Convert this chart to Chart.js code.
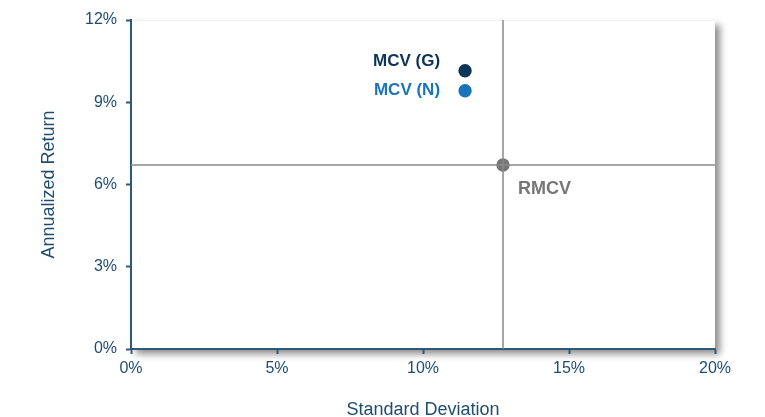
<!DOCTYPE html>
<html>
<head>
<meta charset="utf-8">
<script src="https://cdn.jsdelivr.net/npm/chart.js@4/dist/chart.umd.min.js"></script>
<style>
  html, body { margin: 0; padding: 0; background: #fff; }
  #wrap { width: 765px; height: 417px; position: relative; }
</style>
</head>
<body>
<div id="wrap"><canvas id="riskReturn"></canvas></div>
<script>
// datos
const names = ['MCV (G)', 'MCV (N)', 'RMCV'];
const stdDev = [11.44, 11.44, 12.74];
const annReturn = [10.15, 9.42, 6.71];
const pointColors = ['#0b3458', '#1a74ba', '#767676'];
const xTicks = [0, 5, 10, 15, 20];
const yTicks = [0, 3, 6, 9, 12];

const axisColor = '#2d5877';
const textColor = '#1f4d6e';
const font = 'Arial, "Liberation Sans", sans-serif';

// índice del benchmark (líneas cruzadas)
const bench = names.indexOf('RMCV');

// sombra del área del gráfico
const shadowPlugin = {
  id: 'areaShadow',
  beforeDraw(chart) {
    const { ctx, chartArea: a } = chart;
    ctx.save();
    ctx.shadowColor = 'rgba(0,0,0,0.45)';
    ctx.shadowBlur = 7;
    ctx.shadowOffsetX = 5;
    ctx.shadowOffsetY = 5;
    ctx.fillStyle = '#fff';
    ctx.fillRect(a.left, a.top, a.right - a.left, a.bottom - a.top);
    ctx.restore();
    ctx.save();
    ctx.strokeStyle = '#f2f2f2';
    ctx.lineWidth = 1;
    ctx.beginPath();
    ctx.moveTo(a.left, a.top + 0.5);
    ctx.lineTo(a.right, a.top + 0.5);
    ctx.stroke();
    ctx.restore();
  }
};

// etiquetas junto a los puntos
const labelOffsets = [
  { dx: -25, dy: -9, align: 'right', size: 17 },
  { dx: -25, dy: 0, align: 'right', size: 17 },
  { dx: 15, dy: 24, align: 'left', size: 18 }
];
const labelPlugin = {
  id: 'pointLabels',
  afterDatasetsDraw(chart) {
    const meta = chart.getDatasetMeta(2);
    const { ctx } = chart;
    ctx.save();
    meta.data.forEach((pt, i) => {
      const o = labelOffsets[i];
      ctx.font = 'bold ' + o.size + 'px ' + font;
      ctx.fillStyle = pointColors[i];
      ctx.textAlign = o.align;
      ctx.textBaseline = 'middle';
      ctx.fillText(names[i], pt.x + o.dx, pt.y + o.dy);
    });
    ctx.restore();
  }
};

new Chart(document.getElementById('riskReturn'), {
  type: 'scatter',
  data: {
    datasets: [
      {
        type: 'line',
        data: [{ x: stdDev[bench], y: yTicks[0] }, { x: stdDev[bench], y: yTicks[yTicks.length - 1] }],
        borderColor: '#8a8a8a',
        borderWidth: 1.5,
        pointRadius: 0,
        fill: false
      },
      {
        type: 'line',
        data: [{ x: xTicks[0], y: annReturn[bench] }, { x: xTicks[xTicks.length - 1], y: annReturn[bench] }],
        borderColor: '#8a8a8a',
        borderWidth: 1.5,
        pointRadius: 0,
        fill: false
      },
      {
        data: names.map((n, i) => ({ x: stdDev[i], y: annReturn[i] })),
        pointBackgroundColor: pointColors,
        pointBorderWidth: 0,
        pointRadius: 6.7
      }
    ]
  },
  options: {
    responsive: true,
    maintainAspectRatio: false,
    animation: false,
    layout: { padding: { top: 20, right: 50, bottom: 0, left: 0 } },
    plugins: {
      legend: { display: false },
      tooltip: { enabled: false }
    },
    scales: {
      x: {
        type: 'linear',
        min: xTicks[0],
        max: xTicks[xTicks.length - 1],
        afterBuildTicks: s => { s.ticks = xTicks.map(v => ({ value: v })); },
        afterFit: s => { s.height = 68; },
        border: { color: axisColor, width: 2 },
        grid: { drawOnChartArea: false, tickLength: 5, color: axisColor, tickWidth: 2 },
        ticks: {
          color: textColor,
          padding: 5,
          font: { family: font, size: 16 },
          callback: v => v + '%'
        },
        title: {
          display: true,
          text: 'Standard Deviation',
          color: textColor,
          font: { family: font, size: 18, lineHeight: 0.8 },
          padding: { top: 0, bottom: 0 }
        }
      },
      y: {
        min: yTicks[0],
        max: yTicks[yTicks.length - 1],
        afterBuildTicks: s => { s.ticks = yTicks.map(v => ({ value: v })); },
        afterFit: s => { s.width = 131; },
        border: { color: axisColor, width: 2 },
        grid: { drawOnChartArea: false, tickLength: 5, color: axisColor, tickWidth: 2 },
        ticks: {
          color: textColor,
          padding: 9,
          font: { family: font, size: 16 },
          callback: v => v + '%'
        },
        title: {
          display: true,
          text: 'Annualized Return',
          color: textColor,
          font: { family: font, size: 18 },
          padding: { top: 38, bottom: 0 }
        }
      }
    }
  },
  plugins: [shadowPlugin, labelPlugin]
});
</script>
</body>
</html>
